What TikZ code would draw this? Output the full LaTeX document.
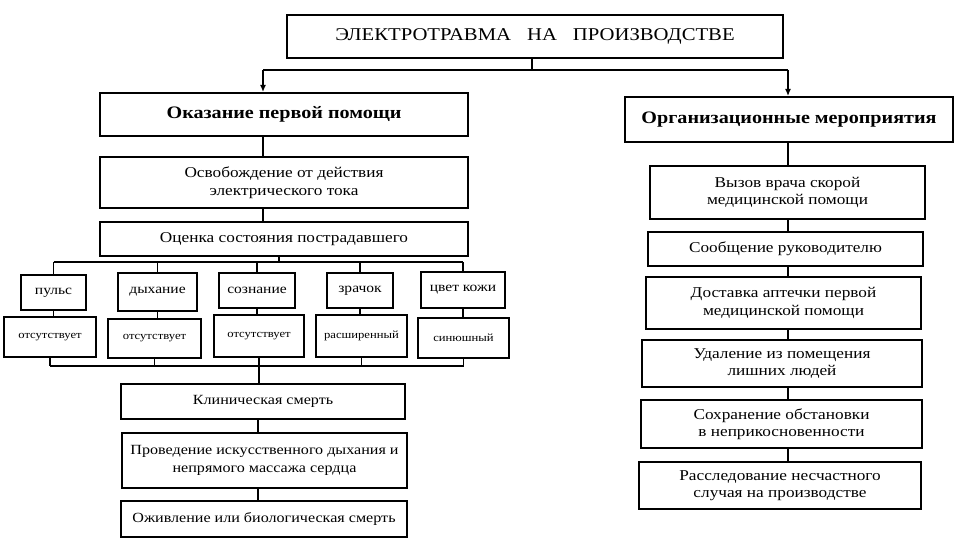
\documentclass[tikz,border=0pt]{standalone}
\usepackage{fontspec}
\setmainfont{Liberation Serif}[FakeStretch=1.15]
\usetikzlibrary{arrows.meta}

\begin{document}
\begin{tikzpicture}[x=1pt,y=-1pt,
    box/.style={draw,line width=1.6pt,align=center,inner sep=0pt,font=\fontsize{15}{17.5}\selectfont},
    lower/.style={box,font=\fontsize{14}{17.5}\selectfont},
    small/.style={box,line width=1.5pt,font=\fontsize{13.5}{15}\selectfont},
    tiny/.style={box,line width=1.5pt,font=\fontsize{11}{13}\selectfont},
    head/.style={box,line width=2pt,font=\fontsize{17.5}{19}\selectfont\bfseries},
    link/.style={line width=1.3pt},
    tip/.style={link,-{Latex[length=7,width=6]}}]
    \useasboundingbox(0,0)rectangle(960,540);
    \node[box,line width=2pt,minimum width=496,minimum height=43,font=\fontsize{18}{20}\selectfont](elec)at(535,36.5){ЭЛЕКТРОТРАВМА\hspace{16pt}НА\hspace{16pt}ПРОИЗВОДСТВЕ};
    \node[head,minimum width=368,minimum height=43](help)at(284,114.5){Оказание первой помощи};
    \node[head,minimum width=328,minimum height=45](org)at(789,119.5){Организационные мероприятия};

    \node[box,minimum width=368,minimum height=51](free)at(284,182.5){Освобождение от действия\\электрического тока};
    \node[box,minimum width=368,minimum height=34](assess)at(284,239){Оценка состояния пострадавшего};

    \node[small,minimum width=65,minimum height=35](pulse)at(53.5,292.5){пульс};
    \node[small,minimum width=79,minimum height=38](breath)at(157.5,292){дыхание};
    \node[small,minimum width=76,minimum height=35](mind)at(257,290.5){сознание};
    \node[small,minimum width=66,minimum height=35](pupil)at(360,290.5){зрачок};
    \node[small,minimum width=84,minimum height=36](skin)at(463,290){цвет кожи};
    \node[tiny,minimum width=92,minimum height=40](pulseno)at(50,337){отсутствует};
    \node[tiny,minimum width=93,minimum height=39](breathno)at(154.5,338.5){отсутствует};
    \node[tiny,minimum width=90,minimum height=42](mindno)at(259,336){отсутствует};
    \node[tiny,minimum width=91,minimum height=42](pupilwide)at(361.5,336){расширенный};
    \node[tiny,minimum width=91,minimum height=40](skinblue)at(463.5,338){синюшный};

    \node[lower,minimum width=284,minimum height=35](clinic)at(263,401.5){Клиническая смерть};
    \node[lower,minimum width=285,minimum height=55](cpr)at(264.5,460.5){Проведение искусственного дыхания и\\непрямого массажа сердца};
    \node[lower,minimum width=286,minimum height=36](outcome)at(264,519){Оживление или биологическая смерть};

    \node[box,minimum width=275,minimum height=53](call)at(787.5,192.5){Вызов врача скорой\\медицинской помощи};
    \node[box,minimum width=275,minimum height=34](report)at(785.5,249){Сообщение руководителю};
    \node[box,minimum width=275,minimum height=52](kit)at(783.5,303){Доставка аптечки первой\\медицинской помощи};
    \node[box,minimum width=280,minimum height=47](clear)at(782,363.5){Удаление из помещения\\лишних людей};
    \node[box,minimum width=281,minimum height=48](keep)at(781.5,424){Сохранение обстановки\\в неприкосновенности};
    \node[box,minimum width=282,minimum height=47](probe)at(780,485.5){Расследование несчастного\\случая на производстве};

    \coordinate(busL)at(263,70);
    \coordinate(busR)at(788,70);
    \coordinate(barT)at(279,262);
    \coordinate(barB)at(258,366);
    \draw[link](elec.south-|532,0)--(532,70);
    \draw[link](busL)--(busR);
    \draw[tip](busL)--(help.north-|busL);
    \draw[tip](busR)--(org.north-|busR);

    \draw[link](help.south-|busL)--(free.north-|busL);
    \draw[link](free.south-|busL)--(assess.north-|busL);
    \draw[link](assess.south-|barT)--(barT);
    \draw[link](pulse.north|-barT)--(skin.north|-barT);
    \draw[link](pulse.north)--(pulse.north|-barT);
    \draw[link](breath.north)--(breath.north|-barT);
    \draw[link](mind.north)--(mind.north|-barT);
    \draw[link](pupil.north)--(pupil.north|-barT);
    \draw[link](skin.north)--(skin.north|-barT);
    \draw[link](pulse.south)--(pulseno.north-|pulse.south);
    \draw[link](breath.south)--(breathno.north-|breath.south);
    \draw[link](mind.south)--(mindno.north-|mind.south);
    \draw[link](pupil.south)--(pupilwide.north-|pupil.south);
    \draw[link](skin.south)--(skinblue.north-|skin.south);
    \draw[link](pulseno.south|-barB)--(skinblue.south|-barB);
    \draw[link](pulseno.south)--(pulseno.south|-barB);
    \draw[link](breathno.south)--(breathno.south|-barB);
    \draw[link](pupilwide.south)--(pupilwide.south|-barB);
    \draw[link](skinblue.south)--(skinblue.south|-barB);
    \draw[link](mindno.south)--(clinic.north-|mindno.south);
    \draw[link](clinic.south-|barB)--(cpr.north-|barB);
    \draw[link](cpr.south-|barB)--(outcome.north-|barB);

    \draw[link](org.south-|busR)--(call.north-|busR);
    \draw[link](call.south-|busR)--(report.north-|busR);
    \draw[link](report.south-|busR)--(kit.north-|busR);
    \draw[link](kit.south-|busR)--(clear.north-|busR);
    \draw[link](clear.south-|busR)--(keep.north-|busR);
    \draw[link](keep.south-|busR)--(probe.north-|busR);
\end{tikzpicture}
\end{document}
